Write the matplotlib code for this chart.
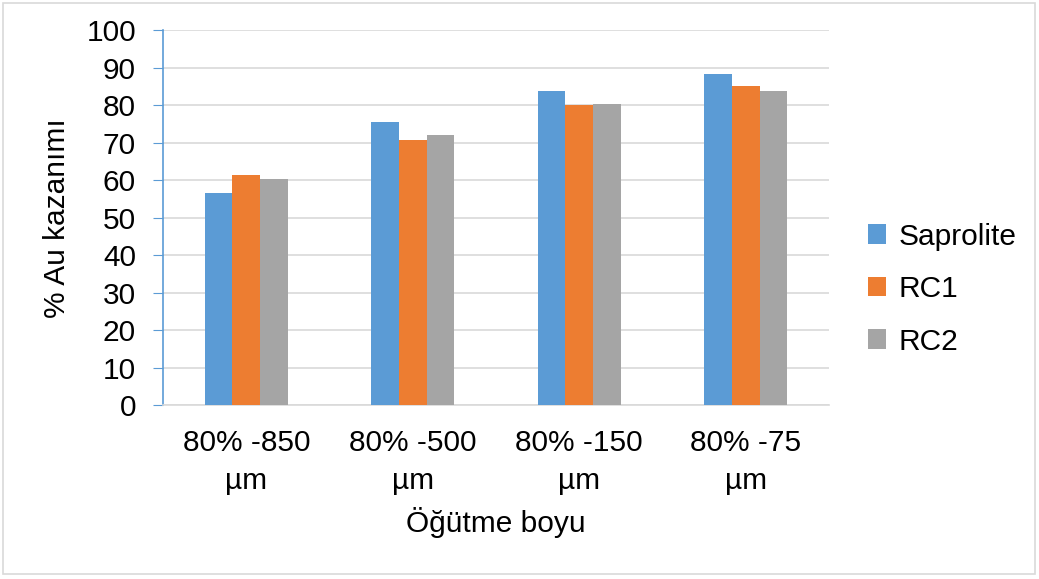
import numpy as np
import matplotlib.pyplot as plt
from matplotlib.patches import Rectangle

plt.rcParams['font.family'] = ['Liberation Sans', 'DejaVu Sans']

categories = ['80% -850\nµm', '80% -500\nµm', '80% -150\nµm', '80% -75\nµm']
series = ['Saprolite', 'RC1', 'RC2']
saprolite = [56.6, 75.5, 83.7, 88.3]
rc1 = [61.3, 70.7, 80.0, 85.0]
rc2 = [60.4, 72.1, 80.3, 83.7]
colors = ['#5B9BD5', '#ED7D31', '#A5A5A5']

fs = 21.5

fig = plt.figure(figsize=(10.39, 5.79), dpi=100)
ax = fig.add_axes([0.1569, 0.2997, 0.6410, 0.6485])

x = np.arange(len(categories))
w = 0.166
for i, (name, vals) in enumerate(zip(series, [saprolite, rc1, rc2])):
    ax.bar(x + (i - 1) * w, vals, w, color=colors[i], label=name, zorder=3)

ax.set_xlim(-0.5, len(categories) - 0.5)
ax.set_ylim(0, 100)
ax.set_yticks(range(0, 101, 10))
ax.set_xticks(x)
ax.set_xticklabels(categories, fontsize=fs, linespacing=1.45)
ax.tick_params(axis='x', length=0, pad=17)
ax.tick_params(axis='y', labelsize=fs, length=7.5, color='#5B9BD5', pad=12)
ax.grid(axis='y', color='#D9D9D9', linewidth=1.2, zorder=0)

for s in ['top', 'right']:
    ax.spines[s].set_visible(False)
ax.spines['left'].set_color('#5B9BD5')
ax.spines['left'].set_linewidth(1.2)
ax.spines['bottom'].set_color('#D9D9D9')
ax.spines['bottom'].set_linewidth(1.2)

ax.set_ylabel('% Au kazanımı', fontsize=fs, labelpad=11)
ax.set_xlabel('Öğütme boyu', fontsize=fs, labelpad=9)

ax.legend(loc='center left', bbox_to_anchor=(1.018, 0.31), frameon=False,
          fontsize=fs, handlelength=0.62, handleheight=0.62, handletextpad=0.4,
          labelspacing=0.82)

fig.patches.append(Rectangle((0.003, 0.008), 0.993, 0.986, transform=fig.transFigure,
                             fill=False, edgecolor='#D9D9D9', linewidth=1.2))

fig.savefig('out.png', dpi=100)
